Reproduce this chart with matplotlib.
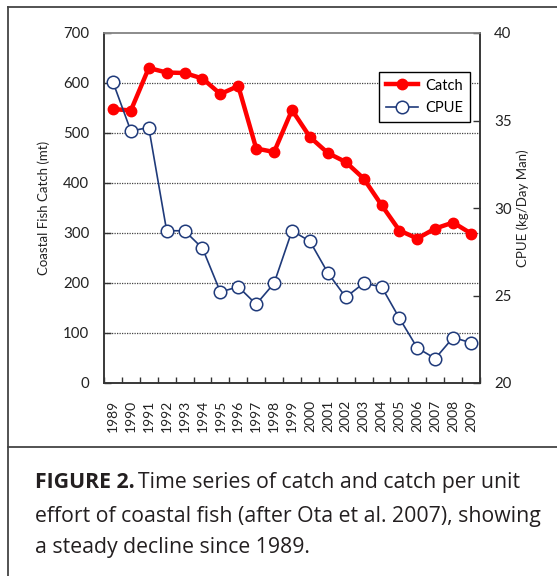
import matplotlib
matplotlib.use("Agg")
import matplotlib.pyplot as plt
from matplotlib.lines import Line2D
import numpy as np

years = [str(y) for y in range(1989, 2010)]
catch = [548, 545, 630, 621, 620, 609, 578, 594, 469, 462, 546, 492, 460, 442, 409, 356, 305, 289, 309, 321, 299]
cpue = [37.2, 34.4, 34.6, 28.7, 28.7, 27.7, 25.2, 25.5, 24.5, 25.7, 28.7, 28.1, 26.3, 24.9, 25.7, 25.5, 23.7, 22.0, 21.4, 22.6, 22.3]
left_ticks = [0, 100, 200, 300, 400, 500, 600, 700]
right_ticks = [20, 25, 30, 35, 40]

W, H = 557, 576
fig = plt.figure(figsize=(W / 100, H / 100), dpi=100)
fig.patch.set_facecolor("white")

chart_font = "Lato"
cap_font = "Open Sans"
dark = "#333333"

def fx(px):
    return px / W

def fy(py):
    return 1 - py / H

ax = fig.add_axes([fx(104), fy(383), fx(480) - fx(104), fy(33) - fy(383)])
ax2 = ax.twinx()

x = np.arange(len(years))
ax.set_xlim(-0.5, len(years) - 0.5)
ax.set_ylim(0, 700)
ax2.set_ylim(20, 40)

for y in left_ticks[1:-1]:
    ax.axhline(y, color="#444444", lw=0.9, ls=(0, (1, 1)), zorder=1)

l1, = ax.plot(x, catch, color="#FF0000", lw=3.2, marker="o", ms=7.5,
              markerfacecolor="#FF0000", markeredgecolor="#FF0000", zorder=3, label="Catch")
l2, = ax2.plot(x, cpue, color="#1F3A7A", lw=1.2, marker="o", ms=9,
               markerfacecolor="white", markeredgecolor="#1F3A7A", markeredgewidth=1.1,
               zorder=4, label="CPUE")

ax.set_yticks(left_ticks)
ax.set_yticklabels([str(v) for v in left_ticks], fontsize=10.8, family=chart_font, color="#222222")
ax2.set_yticks(right_ticks)
ax2.set_yticklabels([str(v) for v in right_ticks], fontsize=10.8, family=chart_font, color="#222222")
ax.tick_params(axis="y", direction="in", length=5, width=1, color=dark, pad=10.5)
ax2.tick_params(axis="y", direction="in", length=5, width=1, color=dark, pad=10)

ax.set_xticks(x)
ax.set_xticklabels(years, rotation=90, fontsize=10, family=chart_font, color="#222222")
ax.set_xticks(np.arange(len(years) + 1) - 0.5, minor=True)
ax.tick_params(axis="x", which="major", length=0, pad=12)
ax.tick_params(axis="x", which="minor", direction="in", length=4, width=1, color=dark)

for a in (ax, ax2):
    for s in a.spines.values():
        s.set_color(dark)
        s.set_linewidth(1.1)
ax.spines["top"].set_color("#888888")
ax2.spines["top"].set_color("#888888")

ax.set_ylabel("Coastal Fish Catch (mt)", fontsize=9.5, family=chart_font, color="#222222")
ax.yaxis.set_label_coords(-(104 - 50) / 376, 0.5)
ax2.set_ylabel("CPUE (kg/Day Man)", fontsize=9.5, family=chart_font, color="#222222", rotation=90)
ax2.yaxis.set_label_coords(1 + (516 - 480) / 376, 0.5)

ax2.set_zorder(ax.get_zorder() + 1)
ax2.patch.set_visible(False)

leg = ax2.legend(handles=[l1, l2], loc="upper left",
                 bbox_to_anchor=((379 - 104) / 376, (383 - 72) / 350),
                 frameon=True, fancybox=False, edgecolor="black", framealpha=1,
                 prop={"family": chart_font, "size": 10.5}, handlelength=2.2,
                 borderpad=0.45, labelspacing=0.6, handletextpad=0.5, borderaxespad=0)
leg.get_frame().set_linewidth(1.0)

# figure frame
lc = "#444444"
fig.add_artist(Line2D([fx(8), 1], [fy(7), fy(7)], color=lc, lw=1.3))
fig.add_artist(Line2D([fx(8), fx(8)], [fy(7), 0], color=lc, lw=1.3))
fig.add_artist(Line2D([fx(8), 1], [fy(447), fy(447)], color=lc, lw=1.3))

# caption
cap_color = "#231F20"
cap_size = 15.3
t_bold = fig.text(fx(35), fy(488), "FIGURE 2.", fontsize=cap_size, family=cap_font,
                  weight="bold", color=cap_color, va="baseline", ha="left")
fig.canvas.draw()
bb = t_bold.get_window_extent(renderer=fig.canvas.get_renderer())
fig.text(bb.x1 / fig.dpi / fig.get_figwidth() + fx(3), fy(488),
         "Time series of catch and catch per unit",
         fontsize=cap_size, family=cap_font, color=cap_color, va="baseline", ha="left")
fig.text(fx(35), fy(522), "effort of coastal fish (after Ota et al. 2007), showing",
         fontsize=cap_size, family=cap_font, color=cap_color, va="baseline", ha="left")
fig.text(fx(35), fy(553), "a steady decline since 1989.",
         fontsize=cap_size, family=cap_font, color=cap_color, va="baseline", ha="left")

fig.savefig("out.png", dpi=100)
